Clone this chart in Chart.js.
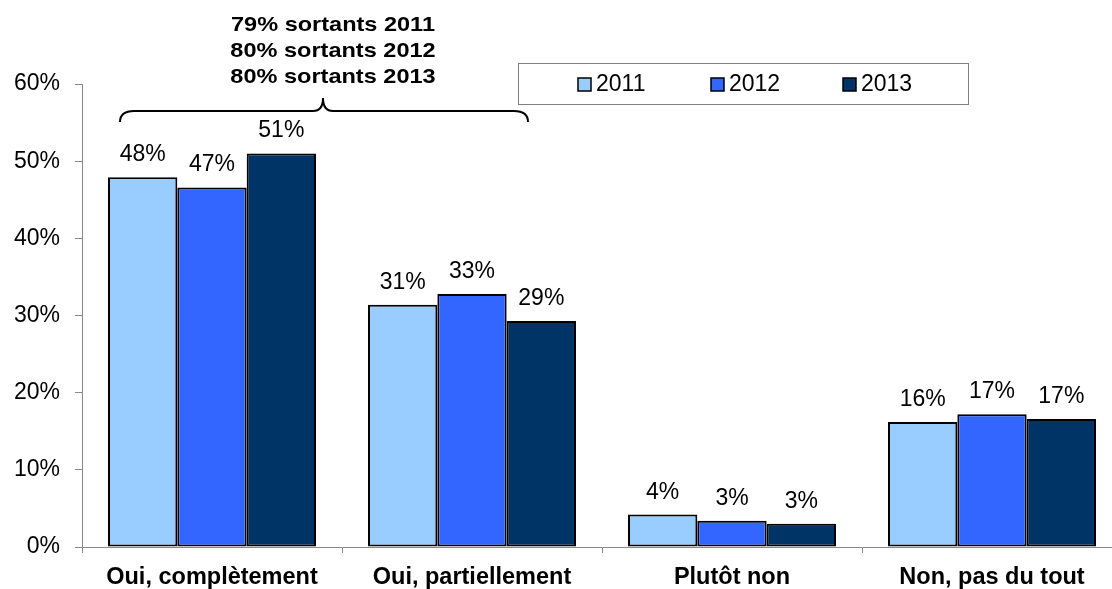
<!DOCTYPE html>
<html>
<head>
<meta charset="utf-8">
<script src="https://cdn.jsdelivr.net/npm/chart.js@4.4.1/dist/chart.umd.min.js"></script>
<style>
html,body{margin:0;padding:0;overflow:hidden;background:#fff;}
#wrap{width:1122px;height:589px;position:relative;}
</style>
</head>
<body>
<div id="wrap"><canvas id="c"></canvas></div>
<script>
const categories = ["Oui, complètement", "Oui, partiellement", "Plutôt non", "Non, pas du tout"];
const seriesNames = ["2011", "2012", "2013"];
const values2011 = [47.9, 31.4, 4.2, 16.2];
const values2012 = [46.6, 32.8, 3.4, 17.2];
const values2013 = [51.0, 29.3, 3.0, 16.6];
const seriesColors = ["#99CCFF", "#3366FF", "#003366"];
const yTicks = [0, 10, 20, 30, 40, 50, 60];
const annotationLines = ["79% sortants 2011", "80% sortants 2012", "80% sortants 2013"];

const FONT = "'Liberation Sans', Arial, sans-serif";

const valueLabels = {
  id: 'valueLabels',
  afterDatasetsDraw(chart) {
    const ctx = chart.ctx;
    ctx.save();
    ctx.font = "23px " + FONT;
    ctx.fillStyle = "#000";
    ctx.textAlign = "center";
    ctx.textBaseline = "alphabetic";
    chart.data.datasets.forEach((ds, i) => {
      chart.getDatasetMeta(i).data.forEach((bar, j) => {
        ctx.fillText(Math.round(ds.data[j]) + "%", bar.x, bar.y - 16);
      });
    });
    ctx.restore();
  }
};

const extras = {
  id: 'extras',
  afterDraw(chart) {
    const ctx = chart.ctx;
    ctx.save();
    ctx.font = "bold 21px " + FONT;
    ctx.fillStyle = "#000";
    ctx.textAlign = "center";
    ctx.textBaseline = "middle";
    const cx = 333, ys = [25, 51, 77];
    annotationLines.forEach((t, i) => {
      ctx.save();
      ctx.translate(cx, ys[i]);
      ctx.scale(1.12, 1);
      ctx.fillText(t, 0, 0);
      ctx.restore();
    });
    ctx.beginPath();
    ctx.lineWidth = 2;
    ctx.strokeStyle = "#000";
    const L = 120, R = 528, P = 323, yEnd = 122, yH = 111, yP = 98;
    ctx.moveTo(L, yEnd);
    ctx.quadraticCurveTo(L, yH, L + 14, yH);
    ctx.lineTo(P - 10, yH);
    ctx.quadraticCurveTo(P, yH, P, yP);
    ctx.quadraticCurveTo(P, yH, P + 10, yH);
    ctx.lineTo(R - 14, yH);
    ctx.quadraticCurveTo(R, yH, R, yEnd);
    ctx.stroke();
    ctx.lineWidth = 1;
    ctx.strokeStyle = "#808080";
    ctx.strokeRect(518.5, 63.5, 450, 41);
    ctx.font = "23px " + FONT;
    ctx.textAlign = "left";
    ctx.textBaseline = "middle";
    const lx = [578, 711, 843];
    chart.data.datasets.forEach((ds, i) => {
      ctx.fillStyle = ds.backgroundColor;
      ctx.fillRect(lx[i], 78, 13, 13);
      ctx.lineWidth = 1.5;
      ctx.strokeStyle = "#000";
      ctx.strokeRect(lx[i], 78, 13, 13);
      ctx.fillStyle = "#000";
      ctx.fillText(ds.label, lx[i] + 18, 85);
    });
    ctx.restore();
  }
};

new Chart(document.getElementById('c'), {
  type: 'bar',
  data: {
    labels: categories,
    datasets: [
      {label: seriesNames[0], data: values2011, backgroundColor: seriesColors[0]},
      {label: seriesNames[1], data: values2012, backgroundColor: seriesColors[1]},
      {label: seriesNames[2], data: values2013, backgroundColor: seriesColors[2]}
    ].map(d => Object.assign(d, {borderColor: "#000", borderWidth: 2, borderSkipped: false, categoryPercentage: 0.8, barPercentage: 1.0}))
  },
  options: {
    responsive: true,
    maintainAspectRatio: false,
    animation: false,
    layout: {padding: {top: 84, left: 0, right: 0, bottom: 0}},
    plugins: {legend: {display: false}, tooltip: {enabled: false}},
    scales: {
      x: {
        afterFit: s => { s.height = 42; },
        border: {display: true, color: "#888", width: 1},
        grid: {drawOnChartArea: false, drawTicks: true, tickLength: 6, color: "#888", offset: true},
        ticks: {color: "#000", font: {family: FONT, size: 23.5, weight: 'bold'}, padding: 10, maxRotation: 0, autoSkip: false}
      },
      y: {
        min: 0, max: 60,
        afterBuildTicks: s => { s.ticks = yTicks.map(v => ({value: v})); },
        afterFit: s => { s.width = 82; },
        border: {display: true, color: "#888", width: 1},
        grid: {drawOnChartArea: false, drawTicks: true, tickLength: 7, color: "#888"},
        ticks: {color: "#000", font: {family: FONT, size: 23}, padding: 15, callback: v => v + "%"}
      }
    }
  },
  plugins: [valueLabels, extras]
});
</script>
</body>
</html>
